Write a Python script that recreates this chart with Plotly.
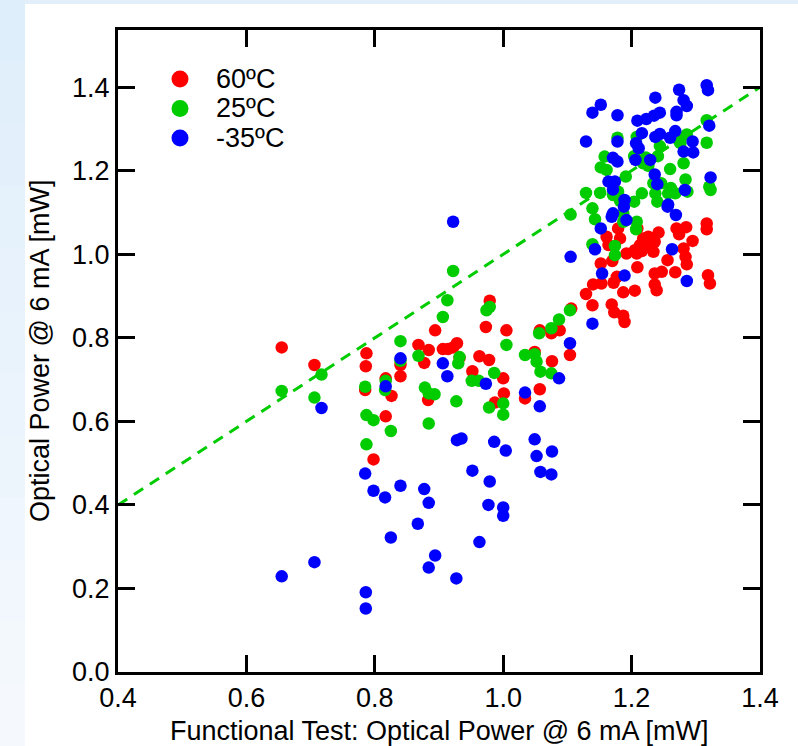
import plotly.graph_objects as go

# ---------------- data ----------------
series_names = ["60ºC", "25ºC", "-35ºC"]
series_colors = ["#FF0000", "#00CC00", "#0000FF"]

red_x = [0.655, 0.706, 0.787, 0.786, 0.785, 0.817, 0.826, 0.817, 0.840, 0.840,
         0.868, 0.798, 0.979, 0.894, 0.973, 1.005, 0.884, 0.877, 0.906, 0.914,
         0.922, 0.928, 0.932, 0.963, 0.978, 0.952, 1.000, 1.001, 0.987, 0.883,
         1.034, 1.057, 1.049, 1.076, 1.057, 1.075, 1.088, 1.104, 1.106,
         1.179, 1.182, 1.161, 1.164, 1.209, 1.242, 1.218, 1.226, 1.236, 1.229,
         1.213, 1.205, 1.208, 1.216, 1.192, 1.234, 1.270, 1.274, 1.285, 1.317,
         1.317, 1.295, 1.281, 1.284, 1.286, 1.256, 1.152, 1.170, 1.209, 1.236,
         1.247, 1.268, 1.319, 1.322, 1.177, 1.172, 1.140, 1.153, 1.129, 1.187,
         1.205, 1.236, 1.239, 1.139, 1.169, 1.173, 1.187, 1.189]
red_y = [0.777, 0.735, 0.763, 0.732, 0.675, 0.703, 0.661, 0.612, 0.735, 0.708,
         0.783, 0.509, 0.889, 0.818, 0.826, 0.818, 0.771, 0.740, 0.773, 0.773,
         0.777, 0.787, 0.752, 0.756, 0.747, 0.720, 0.703, 0.667, 0.645, 0.651,
         0.655, 0.677, 0.766, 0.744, 0.818, 0.811, 0.818, 0.759, 0.870,
         1.062, 1.038, 1.042, 1.022, 1.062, 1.052, 1.038, 1.042, 1.030, 1.022,
         1.022, 1.010, 1.002, 1.008, 1.002, 1.006, 1.062, 1.048, 1.065, 1.074,
         1.060, 1.032, 1.014, 0.994, 0.976, 0.986, 0.978, 0.984, 0.969, 0.954,
         0.958, 0.957, 0.950, 0.930, 0.946, 0.932, 0.928, 0.930, 0.905, 0.909,
         0.913, 0.928, 0.914, 0.878, 0.880, 0.861, 0.853, 0.838]

green_x = [0.655, 0.717, 0.706, 0.785, 0.817, 0.816, 0.840, 0.840, 0.868, 0.787,
           0.798, 0.825, 0.787, 0.884, 1.000, 0.913, 0.906, 0.974, 0.979, 1.005,
           0.932, 0.930, 0.986, 0.951, 0.962, 0.878, 0.884, 0.893, 0.927, 0.978,
           1.000, 1.034, 1.049, 1.052, 1.058, 1.075, 1.056, 1.075, 1.087, 1.104,
           0.922,
           1.105, 1.139, 1.143, 1.129, 1.151, 1.158, 1.152, 1.161, 1.191, 1.171,
           1.182, 1.204, 1.187, 1.139, 1.174, 1.174, 1.317, 1.317, 1.286, 1.273,
           1.276, 1.244, 1.241, 1.208, 1.204, 1.178, 1.218, 1.226, 1.260, 1.281,
           1.284, 1.234, 1.246, 1.261, 1.257, 1.268, 1.287, 1.321, 1.323, 1.216,
           1.179, 1.240, 1.187, 1.208, 1.207, 1.222, 1.237]
green_y = [0.673, 0.712, 0.657, 0.683, 0.697, 0.675, 0.792, 0.745, 0.757, 0.615,
           0.603, 0.577, 0.545, 0.595, 0.616, 0.890, 0.850, 0.866, 0.874, 0.783,
           0.754, 0.739, 0.716, 0.697, 0.697, 0.681, 0.667, 0.665, 0.648, 0.633,
           0.643, 0.759, 0.761, 0.743, 0.719, 0.715, 0.811, 0.823, 0.844, 0.866,
           0.960,
           1.095, 1.110, 1.084, 1.147, 1.147, 1.234, 1.208, 1.202, 1.186, 1.142,
           1.128, 1.126, 1.078, 1.024, 1.020, 0.998, 1.321, 1.267, 1.287, 1.274,
           1.266, 1.259, 1.235, 1.281, 1.235, 1.279, 1.218, 1.212, 1.204, 1.218,
           1.179, 1.170, 1.170, 1.159, 1.146, 1.146, 1.150, 1.162, 1.154, 1.146,
           1.150, 1.126, 1.098, 1.078, 1.060, 1.232, 1.146]

blue_x = [0.655, 0.706, 0.786, 0.786, 0.785, 0.798, 0.816, 0.840, 0.825, 0.877,
          0.884, 0.867, 0.894, 0.884, 0.927, 0.928, 0.935, 0.986, 1.004, 0.952,
          0.979, 0.963, 0.977, 1.000, 1.000, 1.049, 1.052, 1.076, 1.058, 1.075,
          0.717, 0.840, 0.817, 0.906, 0.913, 0.973, 1.034, 1.057, 1.087, 1.104,
          0.922,
          1.139, 1.152, 1.178, 1.129, 1.178, 1.237, 1.274, 1.281, 1.286, 1.317,
          1.319, 1.209, 1.223, 1.235, 1.244, 1.270, 1.270, 1.321, 1.216, 1.237,
          1.244, 1.260, 1.268, 1.207, 1.211, 1.171, 1.178, 1.206, 1.229, 1.281,
          1.295, 1.296, 1.236, 1.240, 1.323, 1.164, 1.174, 1.171, 1.283, 1.189,
          1.257, 1.188, 1.171, 1.169, 1.192, 1.256, 1.269, 1.152, 1.143, 1.105,
          1.263, 1.154, 1.189, 1.286, 1.139]
blue_y = [0.229, 0.263, 0.191, 0.152, 0.475, 0.434, 0.418, 0.446, 0.322, 0.438,
          0.405, 0.355, 0.279, 0.250, 0.224, 0.555, 0.559, 0.551, 0.530, 0.482,
          0.456, 0.311, 0.400, 0.394, 0.374, 0.557, 0.517, 0.528, 0.479, 0.473,
          0.632, 0.751, 0.684, 0.739, 0.708, 0.690, 0.669, 0.636, 0.703, 0.787,
          1.078,
          1.339, 1.358, 1.333, 1.270, 1.270, 1.375, 1.394, 1.369, 1.355, 1.405,
          1.393, 1.320, 1.324, 1.332, 1.339, 1.341, 1.333, 1.308, 1.290, 1.281,
          1.288, 1.279, 1.295, 1.266, 1.254, 1.231, 1.222, 1.226, 1.226, 1.246,
          1.270, 1.244, 1.191, 1.168, 1.184, 1.174, 1.174, 1.155, 1.154, 1.130,
          1.119, 1.114, 1.098, 1.090, 1.082, 1.114, 1.094, 1.062, 1.012, 0.994,
          1.012, 0.954, 0.949, 0.936, 0.834]

ref_line_x = [0.4, 1.4]
ref_line_y = [0.4, 1.4]

x_ticks = [0.4, 0.6, 0.8, 1.0, 1.2, 1.4]
y_ticks = [0.0, 0.2, 0.4, 0.6, 0.8, 1.0, 1.2, 1.4]
x_title = "Functional Test: Optical Power @ 6 mA [mW]"
y_title = "Optical Power @ 6 mA [mW]"

# ---------------- layout geometry ----------------
W, H = 798, 746
L, R, T, B = 118, 38, 30, 74
PW = W - L - R
PH = H - T - B


def pxx(x):
    return (x - L) / PW


def pxy(y):
    return (H - B - y) / PH


FONT = "Arial, Liberation Sans, sans-serif"
FS = 27

fig = go.Figure()

fig.add_trace(go.Scatter(
    x=ref_line_x, y=ref_line_y, mode="lines",
    line=dict(color="#00CC00", width=3, dash="11px,8px"),
    showlegend=False, hoverinfo="skip"))

for name, color, xs, ys in zip(series_names, series_colors,
                               [red_x, green_x, blue_x],
                               [red_y, green_y, blue_y]):
    fig.add_trace(go.Scatter(
        x=xs, y=ys, mode="markers", name=name,
        marker=dict(color=color, size=12.5, line=dict(width=0)),
        showlegend=False))

shapes = []
# page background: light blue frame, white panel
shapes.append(dict(type="rect", xref="paper", yref="paper", layer="below",
                   x0=pxx(25), x1=pxx(810), y0=pxy(4), y1=pxy(760),
                   fillcolor="white", line=dict(width=0)))
# left gradient strip
n = 12
for i in range(n):
    t = i / (n - 1)
    r = int(0xDF + (0xF5 - 0xDF) * t)
    g = int(0xEE + (0xF9 - 0xEE) * t)
    b = int(0xFB + (0xFE - 0xFB) * t)
    shapes.append(dict(type="rect", xref="paper", yref="paper", layer="below",
                       x0=pxx(-5), x1=pxx(25),
                       y0=pxy(H * (i + 1) / n + 1), y1=pxy(H * i / n),
                       fillcolor=f"rgb({r},{g},{b})", line=dict(width=0)))

annotations = []
# manual legend
leg_x_marker = 180
leg_x_text = 214
leg_y = [79, 108.5, 138]
for name, color, yy in zip(series_names, series_colors, leg_y):
    shapes.append(dict(type="circle", xref="paper", yref="paper",
                       xsizemode="pixel", ysizemode="pixel",
                       xanchor=pxx(leg_x_marker), yanchor=pxy(yy),
                       x0=-8.5, x1=8.5, y0=-8.5, y1=8.5,
                       fillcolor=color, line=dict(width=0)))
    annotations.append(dict(text=name, xref="paper", yref="paper",
                            x=pxx(leg_x_text), y=pxy(yy), xanchor="left",
                            yanchor="middle", showarrow=False,
                            font=dict(size=FS, color="black", family=FONT)))

annotations.append(dict(text=x_title, xref="paper", yref="paper",
                        x=pxx(440), y=pxy(731), xanchor="center",
                        yanchor="middle", showarrow=False,
                        font=dict(size=FS, color="black", family=FONT)))
annotations.append(dict(text=y_title, xref="paper", yref="paper",
                        x=pxx(40), y=pxy(351), xanchor="center",
                        yanchor="middle", showarrow=False, textangle=-90,
                        font=dict(size=FS, color="black", family=FONT)))

axis_common = dict(
    showgrid=False, zeroline=False, showline=True, linecolor="black",
    linewidth=3, mirror="ticks", ticks="inside", ticklen=17, tickwidth=3,
    tickcolor="black", tickfont=dict(size=FS, color="black", family=FONT),
    tickformat=".1f")

fig.update_layout(
    width=W, height=H,
    margin=dict(l=L, r=R, t=T, b=B, pad=0),
    paper_bgcolor="#E2EFFB", plot_bgcolor="white",
    font=dict(family=FONT, color="black"),
    xaxis=dict(range=[0.4, 1.4], tickvals=x_ticks, **axis_common),
    yaxis=dict(range=[0, 1.537], tickvals=y_ticks, **axis_common),
    shapes=shapes, annotations=annotations, showlegend=False)

fig.write_html("out.html")
